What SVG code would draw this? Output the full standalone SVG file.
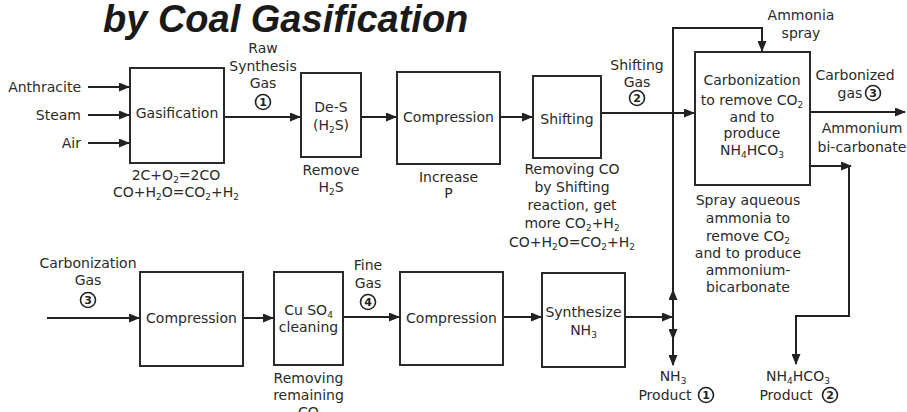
<svg xmlns="http://www.w3.org/2000/svg" width="907" height="412" viewBox="0 0 907 412">
<defs>
<marker id="ah" markerUnits="userSpaceOnUse" markerWidth="11" markerHeight="9" refX="10" refY="4.5" orient="auto">
<path d="M0,0 L11,4.5 L0,9 z" fill="#222"/>
</marker>
<style>
.t{font-family:"DejaVu Sans","Verdana",sans-serif;font-size:14px;fill:#2a2a2a;text-anchor:middle}
.r{text-anchor:end}
.s{font-size:9px}
.box{fill:#fff;stroke:#2a2a2a;stroke-width:2}
.ln{fill:none;stroke:#222;stroke-width:2}
.ar{fill:none;stroke:#222;stroke-width:2;marker-end:url(#ah)}
.cc{fill:#fff;stroke:#222;stroke-width:1.6}
.cn{font-family:"DejaVu Sans",sans-serif;font-size:11px;fill:#222;text-anchor:middle;font-weight:bold}
.title{font-family:"Liberation Sans",Arial,sans-serif;font-size:38px;font-weight:bold;font-style:italic;fill:#1a1a1a}
</style>
</defs>
<rect width="907" height="412" fill="#fff"/>
<text class="title" x="103" y="32">by Coal Gasification</text>

<g id="connectors">
<path class="ar" d="M88,87 L129,87"/>
<path class="ar" d="M88,115 L129,115"/>
<path class="ar" d="M88,143 L129,143"/>
<path class="ar" d="M224,117 L300,117"/>
<path class="ar" d="M361,117 L396,117"/>
<path class="ar" d="M500,117 L532,117"/>
<path class="ar" d="M601,113 L694,113"/>
<path class="ln" d="M673,364 L673,28 L762,28 L762,40"/>
<path class="ar" d="M762,38 L762,51"/>
<path class="ar" d="M673,302 L673,290"/>
<path class="ar" d="M625,317 L672,317"/>
<path class="ar" d="M673,328 L673,339"/>
<path class="ar" d="M673,354 L673,365"/>
<path class="ar" d="M810,112 L905,112"/>
<path class="ar" d="M810,166 L851,166"/>
<path class="ln" d="M849,166 L849,316 L796,316 L796,352"/>
<path class="ar" d="M796,350 L796,364"/>
<path class="ar" d="M47,318 L139,318"/>
<path class="ar" d="M243,318 L273,318"/>
<path class="ar" d="M343,317 L399,317"/>
<path class="ar" d="M503,317 L541,317"/>
</g>

<g id="inputs">
<text class="t r" x="81" y="92">Anthracite</text>
<text class="t r" x="81" y="120">Steam</text>
<text class="t r" x="81" y="148">Air</text>
</g>

<g id="gasification">
<rect class="box" x="130" y="68" width="94" height="95"/>
<text class="t" x="177" y="118">Gasification</text>
<text class="t" x="176" y="180">2C+O<tspan class="s" dy="3">2</tspan><tspan dy="-3">=2CO</tspan></text>
<text class="t" x="176" y="197">CO+H<tspan class="s" dy="3">2</tspan><tspan dy="-3">O=CO</tspan><tspan class="s" dy="3">2</tspan><tspan dy="-3">+H</tspan><tspan class="s" dy="3">2</tspan></text>
</g>

<g id="raw-gas-label">
<text class="t" x="263" y="53">Raw</text>
<text class="t" x="263" y="71">Synthesis</text>
<text class="t" x="263" y="88">Gas</text>
<circle class="cc" cx="263" cy="102" r="7.5"/>
<text class="cn" x="263" y="106">1</text>
</g>

<g id="des">
<rect class="box" x="301" y="73" width="60" height="84"/>
<text class="t" x="331" y="112">De-S</text>
<text class="t" x="331" y="130">(H<tspan class="s" dy="3">2</tspan><tspan dy="-3">S)</tspan></text>
<text class="t" x="331" y="175">Remove</text>
<text class="t" x="331" y="192">H<tspan class="s" dy="3">2</tspan><tspan dy="-3">S</tspan></text>
</g>

<g id="compression1">
<rect class="box" x="397" y="72" width="103" height="92"/>
<text class="t" x="448.5" y="122">Compression</text>
<text class="t" x="448.5" y="182">Increase</text>
<text class="t" x="448.5" y="198">P</text>
</g>

<g id="shifting">
<rect class="box" x="533" y="76" width="68" height="82"/>
<text class="t" x="567" y="124">Shifting</text>
<text class="t" x="572" y="174">Removing CO</text>
<text class="t" x="572" y="192">by Shifting</text>
<text class="t" x="572" y="210">reaction, get</text>
<text class="t" x="572" y="228">more CO<tspan class="s" dy="3">2</tspan><tspan dy="-3">+H</tspan><tspan class="s" dy="3">2</tspan></text>
<text class="t" x="572" y="247">CO+H<tspan class="s" dy="3">2</tspan><tspan dy="-3">O=CO</tspan><tspan class="s" dy="3">2</tspan><tspan dy="-3">+H</tspan><tspan class="s" dy="3">2</tspan></text>
</g>

<g id="shifting-gas-label">
<text class="t" x="637" y="70">Shifting</text>
<text class="t" x="637" y="87">Gas</text>
<circle class="cc" cx="637" cy="98" r="7.5"/>
<text class="cn" x="637" y="102">2</text>
</g>

<g id="ammonia-spray-label">
<text class="t" x="801" y="20">Ammonia</text>
<text class="t" x="801" y="38">spray</text>
</g>

<g id="carbonization">
<rect class="box" x="695" y="52" width="115" height="133"/>
<text class="t" x="752" y="85">Carbonization</text>
<text class="t" x="752" y="105">to remove CO<tspan class="s" dy="3">2</tspan></text>
<text class="t" x="752" y="122">and to</text>
<text class="t" x="752" y="138">produce</text>
<text class="t" x="752" y="155">NH<tspan class="s" dy="3">4</tspan><tspan dy="-3">HCO</tspan><tspan class="s" dy="3">3</tspan></text>
<text class="t" x="748" y="205">Spray aqueous</text>
<text class="t" x="748" y="223">ammonia to</text>
<text class="t" x="748" y="241">remove CO<tspan class="s" dy="3">2</tspan></text>
<text class="t" x="748" y="258">and to produce</text>
<text class="t" x="748" y="275">ammonium-</text>
<text class="t" x="748" y="292">bicarbonate</text>
</g>

<g id="carbonized-gas-label">
<text class="t" x="855" y="80">Carbonized</text>
<text class="t" x="850" y="98">gas</text>
<circle class="cc" cx="873" cy="93" r="7.5"/>
<text class="cn" x="873" y="97">3</text>
<text class="t" x="862" y="133">Ammonium</text>
<text class="t" x="862" y="152">bi-carbonate</text>
</g>

<g id="carbonization-gas-label">
<text class="t" x="88" y="268">Carbonization</text>
<text class="t" x="88" y="285">Gas</text>
<circle class="cc" cx="88" cy="300" r="7.5"/>
<text class="cn" x="88" y="304">3</text>
</g>

<g id="compression2">
<rect class="box" x="140" y="272" width="103" height="94"/>
<text class="t" x="191.5" y="323">Compression</text>
</g>

<g id="cuso4">
<rect class="box" x="274" y="272" width="69" height="93"/>
<text class="t" x="308.5" y="315">Cu SO<tspan class="s" dy="3">4</tspan></text>
<text class="t" x="308.5" y="332">cleaning</text>
<text class="t" x="308.5" y="383">Removing</text>
<text class="t" x="308.5" y="400">remaining</text>
<text class="t" x="308.5" y="417">CO</text>
</g>

<g id="fine-gas-label">
<text class="t" x="368" y="270">Fine</text>
<text class="t" x="368" y="288">Gas</text>
<circle class="cc" cx="368" cy="302" r="7.5"/>
<text class="cn" x="368" y="306">4</text>
</g>

<g id="compression3">
<rect class="box" x="400" y="272" width="103" height="93"/>
<text class="t" x="451.5" y="323">Compression</text>
</g>

<g id="synthesize">
<rect class="box" x="542" y="273" width="83" height="94"/>
<text class="t" x="583.5" y="317">Synthesize</text>
<text class="t" x="583.5" y="335">NH<tspan class="s" dy="3">3</tspan></text>
</g>

<g id="product1">
<text class="t" x="673" y="381">NH<tspan class="s" dy="3">3</tspan></text>
<text class="t" x="665" y="400">Product</text>
<circle class="cc" cx="706" cy="395" r="7.5"/>
<text class="cn" x="706" y="399">1</text>
</g>

<g id="product2">
<text class="t" x="798" y="381">NH<tspan class="s" dy="3">4</tspan><tspan dy="-3">HCO</tspan><tspan class="s" dy="3">3</tspan></text>
<text class="t" x="786" y="400">Product</text>
<circle class="cc" cx="830" cy="395" r="7.5"/>
<text class="cn" x="830" y="399">2</text>
</g>
</svg>
